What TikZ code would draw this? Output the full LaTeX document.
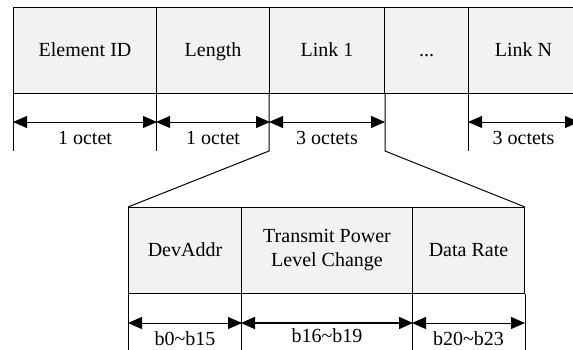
\documentclass[tikz,border=0pt]{standalone}
\usepackage{fontspec}
\setmainfont{Liberation Serif}
\usetikzlibrary{arrows.meta}
\definecolor{fieldgray}{HTML}{F2F2F2}

\begin{document}
\begin{tikzpicture}[x=0.5pt, y=-0.5pt, line width=0.5pt,
    font=\fontsize{10}{12}\selectfont,
    field/.style={draw, fill=fieldgray, minimum height=43pt, inner sep=0pt,
        align=center, anchor=north west},
    oneline/.style={text height=1.5ex, text depth=0.3ex},
    dim/.style={{Triangle[length=7pt,width=6pt]}-{Triangle[length=7pt,width=6pt]}},
    size/.style={midway, yshift=-8.5pt, oneline}]
    \path[use as bounding box, clip] (0, 0) rectangle (573, 349);
    % element fields
    \node[field, oneline, minimum width=71.5pt] (eid) at (13, 7) {Element ID};
    \node[field, oneline, minimum width=56.5pt] (len) at (156, 7) {Length};
    \node[field, oneline, minimum width=57.5pt] (link1) at (269, 7) {Link 1};
    \node[field, oneline, minimum width=42pt] (dots) at (384, 7) {...};
    \node[field, oneline, minimum width=55pt] (linkn) at (468, 7) {Link N};
    \draw (eid.south west) -- ++(0, 57);
    \draw (len.south west) -- ++(0, 57);
    \draw (linkn.south west) -- ++(0, 57);
    \coordinate (l1a) at ([yshift=-28.5pt]link1.south west);
    \coordinate (l1b) at ([yshift=-28.5pt]link1.south east);
    \draw[dim] ([yshift=-14pt]eid.south west) -- node[size] (eidsz) {1 octet} ([yshift=-14pt]eid.south east);
    \draw[dim] ([yshift=-14pt]len.south west) -- node[size] (lensz) {1 octet} ([yshift=-14pt]len.south east);
    \draw[dim] ([yshift=-14pt]link1.south west) -- node[size] (l1sz) {3 octets} ([yshift=-14pt]link1.south east);
    \draw[dim] ([yshift=-14pt]linkn.south west) -- node[size] (lnsz) {3 octets} ([yshift=-14pt]linkn.south east);
    % link subfields
    \node[field, oneline, minimum width=56.5pt] (dev) at (128, 207) {DevAddr};
    \node[field, minimum width=85.5pt] (tplc) at (241, 207) {Transmit Power\\Level Change};
    \node[field, oneline, minimum width=56pt] (rate) at (412, 207) {Data Rate};
    \draw (link1.south west) -- (l1a) -- (dev.north west);
    \draw (link1.south east) -- (l1b) -- (rate.north east);
    \draw (dev.south west) -- ++(0, 60);
    \draw (tplc.south west) -- ++(0, 60);
    \draw (rate.south west) -- ++(0, 60);
    \draw (rate.south east) -- ++(0, 60);
    \draw[dim] ([yshift=-14.5pt]dev.south west) -- node[size] (devsz) {b0\textasciitilde b15} ([yshift=-14.5pt]dev.south east);
    \draw[dim, line width=0.8pt] ([yshift=-14.5pt]tplc.south west) -- node[size, yshift=1.5pt] (tplcsz) {b16\textasciitilde b19} ([yshift=-14.5pt]tplc.south east);
    \draw[dim] ([yshift=-14.5pt]rate.south west) -- node[size] (ratesz) {b20\textasciitilde b23} ([yshift=-14.5pt]rate.south east);
\end{tikzpicture}
\end{document}
